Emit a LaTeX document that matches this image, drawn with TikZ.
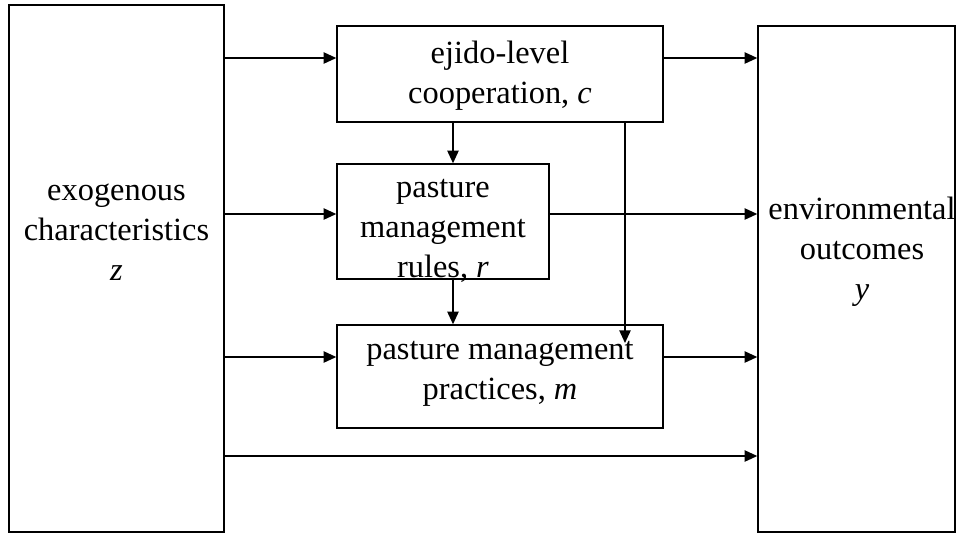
\documentclass[tikz,border=0pt]{standalone}
\usepackage{fontspec}
\setmainfont{Liberation Serif}
\usetikzlibrary{arrows.meta}
\begin{document}
\begin{tikzpicture}[x=0.75pt,y=-0.75pt,
  box/.style={draw, line width=1.1pt, rectangle, inner sep=0pt},
  lbl/.style={align=center, inner sep=0pt, font=\fontsize{24.3}{30}\selectfont},
  arr/.style={line width=1.1pt, -{Triangle[length=9.5pt,width=8.5pt]}},
  ln/.style={line width=1.1pt}]
\useasboundingbox (0,0) rectangle (961,537);
% boxes
\node[box, minimum width=161.25pt, minimum height=395.25pt] (zb) at (116.5,268.5) {};
\node[box, minimum width=147.75pt, minimum height=379.5pt] (yb) at (856.5,279) {};
\node[box, minimum width=244.5pt, minimum height=72pt] (cb) at (500,74) {};
\node[box, minimum width=159pt, minimum height=86.25pt] (rb) at (443,221.5) {};
\node[box, minimum width=244.5pt, minimum height=77.25pt] (mb) at (500,376.5) {};
% texts
\node[lbl] (zt) at (116.5,232) {exogenous\\characteristics\\\textit{z}};
\node[lbl] (ct) at (500,76) {ejido-level\\cooperation, \textit{c}};
\node[lbl] (rt) at (443,231) {pasture\\management\\rules, \textit{r}};
\node[lbl] (mt) at (500,374) {pasture management\\practices, \textit{m}};
\node[lbl] (yt) at (862,252) {environmental\\outcomes\\\textit{y}};
% horizontal arrows
\draw[arr] (zb.east |- 0,58) -- (cb.west |- 0,58);
\draw[arr] (cb.east |- 0,58) -- (yb.west |- 0,58);
\draw[arr] (zb.east |- 0,214) -- (rb.west |- 0,214);
\draw[arr] (rb.east |- 0,214) -- (yb.west |- 0,214);
\draw[arr] (zb.east |- 0,357) -- (mb.west |- 0,357);
\draw[arr] (mb.east |- 0,357) -- (yb.west |- 0,357);
\draw[arr] (zb.east |- 0,456) -- (yb.west |- 0,456);
% vertical arrows
\draw[arr] (cb.south -| 453,0) -- (rb.north -| 453,0);
\draw[arr] (rb.south -| 453,0) -- (mb.north -| 453,0);
\coordinate (cm) at (625,343);
\draw[arr] (cb.south -| 625,0) -- (cm);
\end{tikzpicture}
\end{document}
